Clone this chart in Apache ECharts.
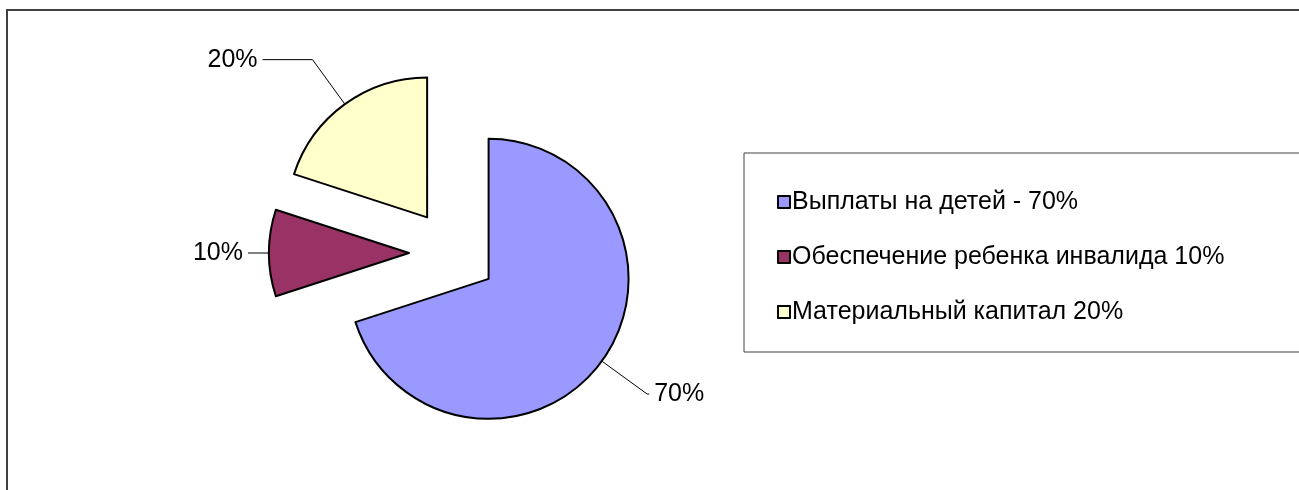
<!DOCTYPE html>
<html>
<head>
<meta charset="utf-8">
<script src="https://cdn.jsdelivr.net/npm/echarts@6/dist/echarts.min.js"></script>
<style>
html, body { margin: 0; padding: 0; background: #fff; }
#chart { width: 1299px; height: 490px; }
</style>
</head>
<body>
<div id="chart"></div>
<script>
// данные диаграммы
let names = ['Выплаты на детей - 70%', 'Обеспечение ребенка инвалида 10%', 'Материальный капитал 20%'];
let values = [70, 10, 20];
let colors = ['#9999ff', '#993366', '#ffffcc'];

// длина отрезков выносок для каждой подписи
let lineLen = [56, 8, 55];
let lineLen2 = [2, 13, 50];

let chart = echarts.init(document.getElementById('chart'));

let option = {
    animation: false,
    textStyle: {
        fontFamily: 'Liberation Sans, Arial, sans-serif'
    },
    graphic: [
        {
            type: 'rect',
            shape: { x: 7, y: 10, width: 1400, height: 600 },
            style: { fill: null, stroke: '#404040', lineWidth: 2 },
            silent: true
        }
    ],
    legend: {
        orient: 'vertical',
        left: 744,
        top: 153,
        padding: [35, 80, 26, 33],
        borderColor: '#404040',
        borderWidth: 1,
        itemWidth: 12,
        itemHeight: 12,
        itemGap: 27,
        icon: 'rect',
        selectedMode: false,
        itemStyle: { borderColor: '#000', borderWidth: 2 },
        textStyle: {
            color: '#000',
            fontSize: 25,
            lineHeight: 28,
            padding: [0, 0, 0, -3]
        },
        data: names
    },
    series: [
        {
            type: 'pie',
            center: [453, 253],
            radius: 140,
            startAngle: 90,
            selectedMode: 'multiple',
            selectedOffset: 44,
            itemStyle: { borderColor: '#000', borderWidth: 2 },
            label: {
                show: true,
                position: 'outside',
                formatter: '{d}%',
                color: '#000',
                fontSize: 25
            },
            labelLine: {
                show: true,
                lineStyle: { color: '#000', width: 1 }
            },
            emphasis: { disabled: true },
            data: names.map(function (n, i) {
                return {
                    name: n,
                    value: values[i],
                    selected: true,
                    itemStyle: { color: colors[i] },
                    labelLine: { length: lineLen[i], length2: lineLen2[i] }
                };
            })
        }
    ]
};

chart.setOption(option);
</script>
</body>
</html>
